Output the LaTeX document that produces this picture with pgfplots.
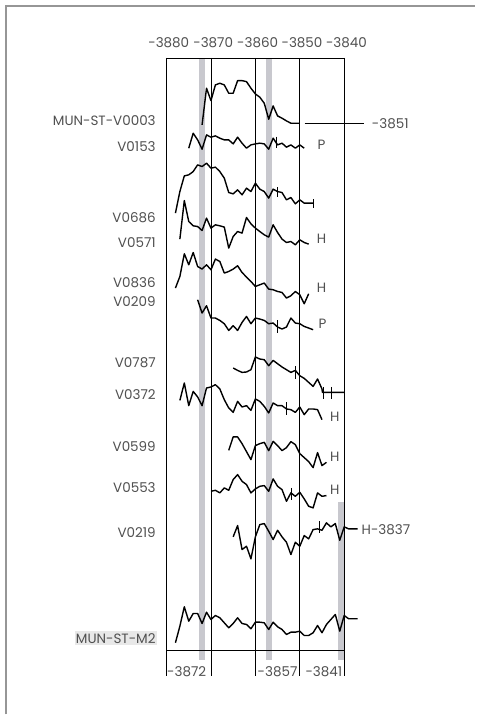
\documentclass[border=0pt]{standalone}
\usepackage{pgfplots}
\pgfplotsset{compat=1.18}
\usepackage{fontspec}
\setmainfont{Poppins}
\definecolor{bargray}{RGB}{200,200,206}
\definecolor{txt}{RGB}{80,80,80}
\definecolor{grid}{RGB}{70,70,70}
\definecolor{frame}{RGB}{150,150,150}
\tikzset{lab/.style={font=\fontsize{13.5}{15}\selectfont, text=txt, inner sep=0pt}}
\begin{document}
\begin{tikzpicture}
\begin{axis}[
  x=4.445pt, y=1pt, y dir=reverse,
  xmin=-3917.5, xmax=-3807.7, ymin=0, ymax=715,
  hide axis, clip=false,
  ring/.style={black, mark=none, line width=1.4pt, line join=round},
  tk/.style={black, mark=none, line width=0.7pt},
  gl/.style={grid, mark=none, line width=0.6pt},
]
% bounding box and frame
\path (axis cs:-3917.5,0) rectangle (axis cs:-3807.7,715);
\draw[frame, line width=1.2pt] (axis cs:-3916.15,715) -- (axis cs:-3916.15,6) -- (axis cs:-3810.6,6);
% grey marker bars (years -3872, -3857, -3841)
\addplot[draw=none, fill=bargray] coordinates {(-3872.65,59) (-3871.35,59) (-3871.35,661) (-3872.65,661)} -- cycle;
\addplot[draw=none, fill=bargray] coordinates {(-3857.65,59) (-3856.35,59) (-3856.35,661) (-3857.65,661)} -- cycle;
\addplot[draw=none, fill=bargray] coordinates {(-3841.45,502) (-3840.15,502) (-3840.15,661) (-3841.45,661)} -- cycle;
% frame of the chart
\addplot[gl] coordinates {(-3880,58) (-3840,58)};
\addplot[gl] coordinates {(-3880,651) (-3840,651)};
\addplot[gl] coordinates {(-3880,58) (-3880,677)};
\addplot[gl] coordinates {(-3870,58) (-3870,677)};
\addplot[gl] coordinates {(-3860,58) (-3860,677)};
\addplot[gl] coordinates {(-3850,58) (-3850,677)};
\addplot[gl] coordinates {(-3840,58) (-3840,677)};
% top year labels
\node[lab] at (axis cs:-3879.5,43) {-3880};
\node[lab] at (axis cs:-3869.5,43) {-3870};
\node[lab] at (axis cs:-3859.5,43) {-3860};
\node[lab] at (axis cs:-3849.5,43) {-3850};
\node[lab] at (axis cs:-3839.5,43) {-3840};
% bottom labels
\node[lab, anchor=west] at (axis cs:-3879.9,672) {-3872};
\node[lab, anchor=east] at (axis cs:-3850.5,672) {-3857};
\node[lab, anchor=east] at (axis cs:-3840.4,672) {-3841};
% series labels
\node[lab, anchor=east] at (axis cs:-3882.4,121) {MUN-ST-V0003};
\node[lab, anchor=east] at (axis cs:-3882.4,147) {V0153};
\node[lab, anchor=east] at (axis cs:-3882.4,218) {V0686};
\node[lab, anchor=east] at (axis cs:-3882.4,243) {V0571};
\node[lab, anchor=east] at (axis cs:-3882.4,283) {V0836};
\node[lab, anchor=east] at (axis cs:-3882.4,302) {V0209};
\node[lab, anchor=east] at (axis cs:-3882.4,363) {V0787};
\node[lab, anchor=east] at (axis cs:-3882.4,395) {V0372};
\node[lab, anchor=east] at (axis cs:-3882.4,447) {V0599};
\node[lab, anchor=east] at (axis cs:-3882.4,488) {V0553};
\node[lab, anchor=east] at (axis cs:-3882.4,533) {V0219};
\node[lab, anchor=east, fill=gray!18, inner xsep=1pt, inner ysep=2pt] at (axis cs:-3882.2,639) {MUN-ST-M2};
% right-hand labels
\addplot[gl] coordinates {(-3848.9,123.3) (-3835.6,123.3)};
\node[lab, anchor=west] at (axis cs:-3833.8,123.3) {-3851};
\node[lab] at (axis cs:-3845.1,145) {P};
\node[lab] at (axis cs:-3845.1,239) {H};
\node[lab] at (axis cs:-3845.1,288) {H};
\node[lab] at (axis cs:-3844.9,324) {P};
\node[lab] at (axis cs:-3842.1,417) {H};
\node[lab] at (axis cs:-3842.1,457) {H};
\node[lab] at (axis cs:-3842.1,490) {H};
\node[lab, anchor=west] at (axis cs:-3836.1,530) {H-3837};
% ring-width curves
% MUN-ST-V0003
\addplot[ring] coordinates {(-3872,125.0) (-3871,88.3) (-3870,100.7) (-3869,85.0) (-3868,83.3) (-3867,85.0) (-3866,93.3) (-3865,93.3) (-3864,80.7) (-3863,80.7) (-3862,81.7) (-3861,88.3) (-3860,94.0) (-3859,97.3) (-3858,103.3) (-3857,119.3) (-3856,106.0) (-3855,116.0) (-3854,118.3) (-3853,121.0) (-3852,123.3) (-3851,123.3) (-3850,123.3)};
% V0153
\addplot[ring] coordinates {(-3875,148.3) (-3874,133.3) (-3873,140.0) (-3872,149.3) (-3871,135.0) (-3870,137.3) (-3869,136.0) (-3868,138.3) (-3867,140.0) (-3866,140.0) (-3865,144.0) (-3864,137.3) (-3863,143.3) (-3862,148.3) (-3861,145.0) (-3860,144.0) (-3859,143.3) (-3858,144.0) (-3857,149.3) (-3856,138.3) (-3855,145.0) (-3854,143.3) (-3853,147.3) (-3852,145.0) (-3851,148.3) (-3850,145.0) (-3849,148.3)};
% V0686
\addplot[ring] coordinates {(-3878,213.3) (-3877,191.7) (-3876,176.0) (-3875,175.0) (-3874,171.7) (-3873,165.0) (-3872,166.7) (-3871,163.3) (-3870,168.3) (-3869,167.3) (-3868,171.7) (-3867,178.3) (-3866,192.7) (-3865,194.0) (-3864,190.0) (-3863,195.0) (-3862,188.3) (-3861,191.7) (-3860,183.3) (-3859,189.3) (-3858,191.7) (-3857,198.3) (-3856,189.3) (-3855,191.7) (-3854,192.7) (-3853,200.0) (-3852,197.7) (-3851,204.0) (-3850,200.0) (-3849,203.3) (-3848,203.3) (-3847,203.3)};
% V0571
\addplot[ring] coordinates {(-3877,239.3) (-3876,200.7) (-3875,221.7) (-3874,226.0) (-3873,226.7) (-3872,230.7) (-3871,218.3) (-3870,228.3) (-3869,225.0) (-3868,226.0) (-3867,227.3) (-3866,248.3) (-3865,236.7) (-3864,231.7) (-3863,233.3) (-3862,217.7) (-3861,224.0) (-3860,228.3) (-3859,231.7) (-3858,235.0) (-3857,237.3) (-3856,225.0) (-3855,232.7) (-3854,239.3) (-3853,242.7) (-3852,241.7) (-3851,245.0) (-3850,240.0) (-3849,242.7) (-3848,244.3)};
% V0836
\addplot[ring] coordinates {(-3878,288.3) (-3877,276.7) (-3876,254.0) (-3875,265.0) (-3874,252.7) (-3873,266.7) (-3872,269.3) (-3871,265.0) (-3870,270.0) (-3869,259.3) (-3868,261.7) (-3867,273.3) (-3866,271.7) (-3865,269.3) (-3864,266.0) (-3863,272.7) (-3862,277.3) (-3861,281.7) (-3860,286.7) (-3859,285.0) (-3858,283.3) (-3857,289.3) (-3856,290.0) (-3855,291.7) (-3854,292.7) (-3853,298.3) (-3852,296.0) (-3851,291.7) (-3850,295.0) (-3849,304.0) (-3848,294.0)};
% V0209
\addplot[ring] coordinates {(-3873,300.0) (-3872,313.3) (-3871,306.0) (-3870,318.3) (-3869,318.3) (-3868,320.7) (-3867,324.0) (-3866,330.7) (-3865,326.0) (-3864,330.7) (-3863,322.7) (-3862,316.7) (-3861,324.0) (-3860,318.3) (-3859,319.3) (-3858,320.7) (-3857,324.0) (-3856,323.3) (-3855,327.3) (-3854,329.3) (-3853,327.3) (-3852,318.3) (-3851,323.3) (-3850,324.0) (-3849,326.7) (-3848,328.3) (-3847,330.0)};
% V0787
\addplot[ring] coordinates {(-3865,368.3) (-3864,370.7) (-3863,372.7) (-3862,372.3) (-3861,370.0) (-3860,357.3) (-3859,359.3) (-3858,360.0) (-3857,366.0) (-3856,360.7) (-3855,364.0) (-3854,367.3) (-3853,370.0) (-3852,372.7) (-3851,370.7) (-3850,376.0) (-3849,378.7) (-3848,382.7) (-3847,386.7) (-3846,379.3) (-3845,389.3) (-3844.9,392.7) (-3840,392.7)};
% V0372
\addplot[ring] coordinates {(-3877,400.7) (-3876,383.3) (-3875,406.0) (-3874,391.7) (-3873,397.3) (-3872,406.0) (-3871,388.3) (-3870,387.3) (-3869,385.0) (-3868,389.3) (-3867,400.0) (-3866,408.3) (-3865,412.7) (-3864,401.7) (-3863,407.3) (-3862,406.0) (-3861,410.7) (-3860,399.3) (-3859,401.7) (-3858,406.7) (-3857,413.3) (-3856,403.3) (-3855,406.0) (-3854,406.0) (-3853,409.3) (-3852,410.0) (-3851,412.7) (-3850,407.3) (-3849,415.0) (-3848,409.3) (-3847,409.3) (-3846,410.0) (-3845,420.0)};
% V0599
\addplot[ring] coordinates {(-3866,450.7) (-3865,437.3) (-3864,437.3) (-3863,444.0) (-3862,452.0) (-3861,460.0) (-3860,446.0) (-3859,444.0) (-3858,442.7) (-3857,451.0) (-3856,441.7) (-3855,446.0) (-3854,451.0) (-3853,448.0) (-3852,442.0) (-3851,445.0) (-3850,454.0) (-3849,458.0) (-3848,462.0) (-3847,468.0) (-3846,453.0) (-3845,466.0) (-3844,462.7)};
% V0553
\addplot[ring] coordinates {(-3870,491.7) (-3869,490.7) (-3868,493.3) (-3867,488.3) (-3866,490.7) (-3865,480.0) (-3864,475.0) (-3863,481.7) (-3862,485.0) (-3861,493.3) (-3860,489.3) (-3859,486.7) (-3858,486.0) (-3857,491.7) (-3856,479.3) (-3855,486.7) (-3854,490.0) (-3853,501.7) (-3852,493.3) (-3851,496.7) (-3850,492.7) (-3849,499.3) (-3848,506.7) (-3847,508.3) (-3846,493.3) (-3845,496.7) (-3844,496.0)};
% V0219
\addplot[ring] coordinates {(-3865,537.3) (-3864,526.0) (-3863,550.0) (-3862,546.7) (-3861,559.3) (-3860,537.3) (-3859,525.0) (-3858,524.0) (-3857,531.7) (-3856,540.0) (-3855,530.7) (-3854,537.3) (-3853,542.7) (-3852,555.0) (-3851,542.7) (-3850,546.7) (-3849,536.0) (-3848,539.3) (-3847,530.0) (-3846,529.3) (-3845,530.7) (-3844,523.3) (-3843,527.3) (-3842,524.0) (-3841,540.7) (-3840,527.3) (-3839,529.3) (-3837,529.3)};
% MUN-ST-M2
\addplot[ring] coordinates {(-3878,643.3) (-3877,626.7) (-3876,607.3) (-3875,621.7) (-3874,614.0) (-3873,614.0) (-3872,624.0) (-3871,612.7) (-3870,620.0) (-3869,616.0) (-3868,618.3) (-3867,623.3) (-3866,628.3) (-3865,624.0) (-3864,618.3) (-3863,624.0) (-3862,625.0) (-3861,629.3) (-3860,622.7) (-3859,622.7) (-3858,623.3) (-3857,630.0) (-3856,622.7) (-3855,627.3) (-3854,630.0) (-3853,635.0) (-3852,632.7) (-3851,632.7) (-3850,631.7) (-3849,636.0) (-3848,636.0) (-3847,633.3) (-3846,626.0) (-3845,633.3) (-3844,625.0) (-3843,620.0) (-3842,615.0) (-3841,631.7) (-3840,616.0) (-3839,619.3) (-3837,619.3)};
% sapwood / boundary ticks
\addplot[tk] coordinates {(-3855.3,136.7) (-3855.3,148.3)};
\addplot[tk] coordinates {(-3855.1,187.3) (-3855.1,196.7)};
\addplot[tk] coordinates {(-3847,199.5) (-3847,208.3)};
\addplot[tk] coordinates {(-3855,320.7) (-3855,333.3)};
\addplot[tk] coordinates {(-3850.9,366.7) (-3850.9,379.3)};
\addplot[tk] coordinates {(-3844.8,387.3) (-3844.8,399)};
\addplot[tk] coordinates {(-3842.9,387.3) (-3842.9,399)};
\addplot[tk] coordinates {(-3853,402.7) (-3853,415)};
\addplot[tk] coordinates {(-3851.9,488.3) (-3851.9,500.7)};
\addplot[tk] coordinates {(-3845.7,521.7) (-3845.7,533.3)};
\end{axis}
\end{tikzpicture}
\end{document}
